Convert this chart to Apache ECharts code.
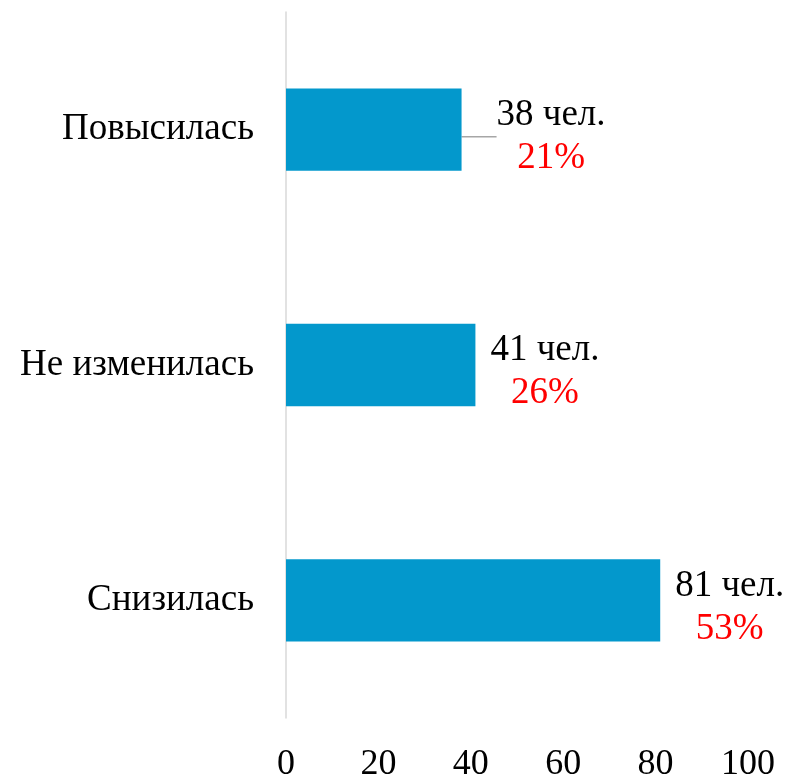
<!DOCTYPE html>
<html>
<head>
<meta charset="utf-8">
<script src="https://cdn.jsdelivr.net/npm/echarts@6/dist/echarts.min.js"></script>
<style>
  html, body { margin: 0; padding: 0; background: #fff; }
  #chart { width: 786px; height: 777px; }
</style>
</head>
<body>
<div id="chart"></div>
<script>
const categories = ['Повысилась', 'Не изменилась', 'Снизилась'];
const counts = [38, 41, 81];
const shares = ['21%', '26%', '53%'];
const xTicks = [0, 20, 40, 60, 80, 100];

const FONT = '"Liberation Serif", "Times New Roman", serif';

const chart = echarts.init(document.getElementById('chart'));

const seriesData = counts.map((v, i) => {
  const item = { value: v };
  if (i === 0) {
    item.labelLine = { show: true, lineStyle: { color: '#a6a6a6', width: 1.5 } };
  }
  return item;
});

const option = {
  animation: false,
  grid: { left: 286, right: 38, top: 12, bottom: 59, outerBoundsMode: 'none', containLabel: false },
  xAxis: {
    type: 'value',
    min: xTicks[0],
    max: xTicks[xTicks.length - 1],
    interval: 20,
    splitLine: { show: false },
    axisLine: { show: false },
    axisTick: { show: false },
    axisLabel: {
      margin: 29,
      color: '#000',
      fontFamily: FONT,
      fontSize: 36
    }
  },
  yAxis: {
    type: 'category',
    inverse: true,
    data: categories,
    axisTick: { show: false },
    axisLine: { lineStyle: { color: '#d9d9d9', width: 1.5 } },
    axisLabel: {
      margin: 32,
      color: '#000',
      fontFamily: FONT,
      fontSize: 37,
      padding: [7, 0, 0, 0]
    }
  },
  series: [{
    type: 'bar',
    data: seriesData,
    barWidth: '35%',
    itemStyle: { color: '#0398cc' },
    label: {
      show: true,
      position: 'right',
      distance: 15,
      formatter: p => '{a|' + counts[p.dataIndex] + ' чел.}\n{b|' + shares[p.dataIndex] + '}',
      rich: {
        a: { color: '#000', fontFamily: FONT, fontSize: 37, lineHeight: 43, align: 'center' },
        b: { color: '#ff0000', fontFamily: FONT, fontSize: 37, lineHeight: 43, align: 'center' }
      }
    },
    labelLine: { show: false },
    labelLayout: p => (p.dataIndex === 0 ? { dx: 20, dy: 7 } : { dy: 7 })
  }]
};

chart.setOption(option);
</script>
</body>
</html>
